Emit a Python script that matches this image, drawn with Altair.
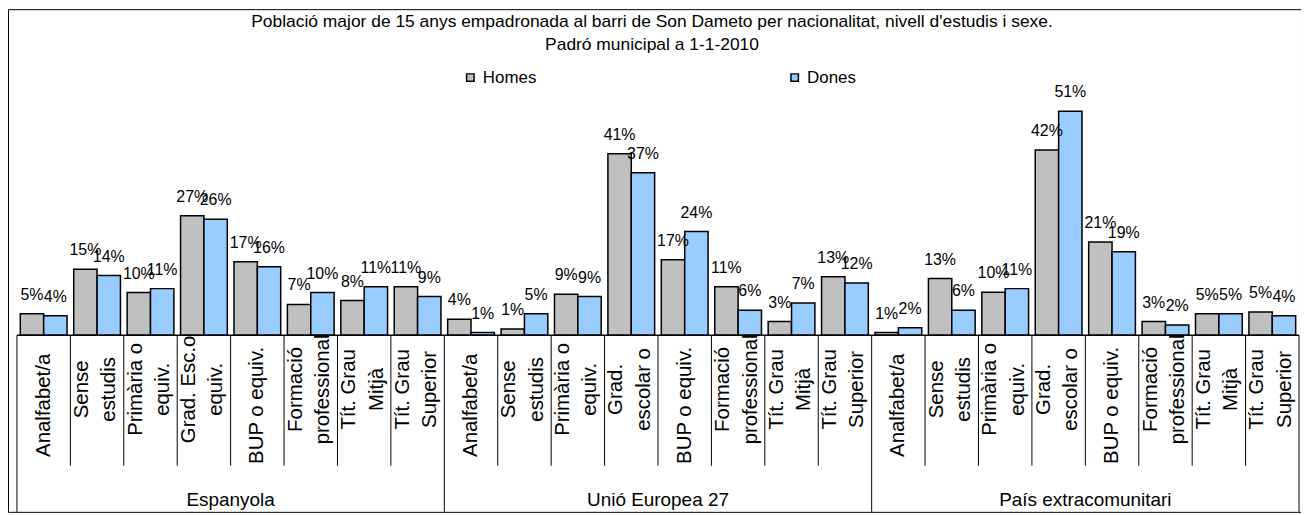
import altair as alt
import pandas as pd

# ---------------- data ----------------
groups = ["Espanyola", "Unió Europea 27", "País extracomunitari"]
levels_esp = ["Analfabet/a", "Sense\nestudis", "Primària o\nequiv.", "Grad. Esc.o\nequiv.",
              "BUP o equiv.", "Formació\nprofessional", "Tít. Grau\nMitjà", "Tít. Grau\nSuperior"]
levels_other = ["Analfabet/a", "Sense\nestudis", "Primària o\nequiv.", "Grad.\nescolar o",
                "BUP o equiv.", "Formació\nprofessional", "Tít. Grau\nMitjà", "Tít. Grau\nSuperior"]
sexes = ["Homes", "Dones"]

homes_esp = [4.9, 15.0, 9.7, 27.2, 16.7, 7.0, 7.9, 11.0]
dones_esp = [4.4, 13.6, 10.6, 26.4, 15.6, 9.7, 11.0, 8.8]
homes_ue = [3.6, 1.4, 9.3, 41.3, 17.2, 11.0, 3.1, 13.3]
dones_ue = [0.6, 4.9, 8.8, 37.0, 23.6, 5.7, 7.3, 11.9]
homes_ext = [0.6, 12.9, 9.8, 42.2, 21.2, 3.1, 4.9, 5.3]
dones_ext = [1.7, 5.7, 10.6, 51.0, 19.0, 2.3, 4.9, 4.4]

title_lines = ["Població major de 15 anys empadronada al barri de Son Dameto per nacionalitat, nivell d'estudis i sexe.",
               "Padró municipal a 1-1-2010"]

# ---------------- tables ----------------
level_sets = [levels_esp, levels_other, levels_other]
homes_sets = [homes_esp, homes_ue, homes_ext]
dones_sets = [dones_esp, dones_ue, dones_ext]

keys, cat_rows, bar_rows = [], [], []
for g, levels, hs, ds in zip(groups, level_sets, homes_sets, dones_sets):
    for i, lvl in enumerate(levels):
        k = f"{g}|{i}"
        keys.append(k)
        cat_rows.append({"key": k, "label": lvl, "group": g, "first": i == 0, "zero": 0,
                         "multi": "\n" in lvl})
        bar_rows.append({"key": k, "sex": "Homes", "value": hs[i]})
        bar_rows.append({"key": k, "sex": "Dones", "value": ds[i]})

bars_df = pd.DataFrame(bar_rows)
cats_df = pd.DataFrame(cat_rows)
inner_df = cats_df[~cats_df["first"]]
group_start_df = cats_df[cats_df["first"]]
single_df = cats_df[~cats_df["multi"]]
multi_df = cats_df[cats_df["multi"]]
end_df = pd.DataFrame({"key": [keys[-1]]})
group_mid_df = pd.DataFrame({"key": [f"{g}|4" for g in groups], "group": groups})
title_df = pd.DataFrame({"t": ["\n".join(title_lines)]})

FONT = "Liberation Sans"
W, H = 1299, 505
BASE = 327.5

xscale = alt.Scale(domain=keys, range=[9, 1297], paddingInner=0, paddingOuter=0)
yscale = alt.Scale(domain=[0, 60], range=[BASE, BASE - 60 * 4.41], nice=False, zero=True)
offscale = alt.Scale(domain=sexes, paddingInner=0, paddingOuter=0.143)
cscale = alt.Scale(domain=sexes, range=["#C0C0C0", "#99CCFF"])

bars = alt.Chart(bars_df).mark_bar(stroke="black", strokeWidth=1.5).encode(
    x=alt.X("key:N", scale=xscale, axis=None),
    xOffset=alt.XOffset("sex:N", scale=offscale),
    y=alt.Y("value:Q", scale=yscale, axis=None),
    color=alt.Color("sex:N", scale=cscale, legend=alt.Legend(
        title=None, orient="none", legendX=456, legendY=60, direction="horizontal",
        symbolType="square", symbolSize=56, symbolStrokeColor="black", symbolStrokeWidth=1.5,
        labelFontSize=17, labelFont=FONT, labelColor="black", labelOffset=4, columnPadding=250.8)),
)

labels = alt.Chart(bars_df).transform_calculate(frac="datum.value / 100").mark_text(
    font=FONT, fontSize=16, color="black", baseline="alphabetic", dy=-14
).encode(
    x=alt.X("key:N", scale=xscale, axis=None),
    xOffset=alt.XOffset("sex:N", scale=offscale),
    y=alt.Y("value:Q", scale=yscale, axis=None),
    text=alt.Text("frac:Q", format=".0%"),
)

baseline = alt.Chart(cats_df).mark_rect(fillOpacity=0, stroke="black", strokeWidth=1.5).encode(
    x=alt.X("key:N", scale=xscale, axis=None),
    y=alt.Y("zero:Q", scale=yscale, axis=None),
    y2="zero:Q",
)

inner_rules = alt.Chart(inner_df).mark_rule(color="black", strokeWidth=1).encode(
    x=alt.X("key:N", scale=xscale, axis=None, bandPosition=0),
    y=alt.value(BASE), y2=alt.value(458.7),
)
group_rules = alt.Chart(group_start_df).mark_rule(color="black", strokeWidth=1).encode(
    x=alt.X("key:N", scale=xscale, axis=None, bandPosition=0),
    y=alt.value(BASE), y2=alt.value(H),
)
end_rule = alt.Chart(end_df).mark_rule(color="black", strokeWidth=1).encode(
    x=alt.X("key:N", scale=xscale, axis=None, bandPosition=1),
    y=alt.value(BASE), y2=alt.value(H),
)

cat_single = alt.Chart(single_df).mark_text(
    font=FONT, fontSize=20.5, angle=270, align="center", baseline="middle", color="black"
).encode(
    x=alt.X("key:N", scale=xscale, axis=None),
    y=alt.value(398),
    text="label:N",
)
cat_multi = alt.Chart(multi_df).mark_text(
    font=FONT, fontSize=20.5, angle=270, lineBreak="\n", lineHeight=27.5,
    align="center", baseline="middle", color="black", dy=-15
).encode(
    x=alt.X("key:N", scale=xscale, axis=None),
    y=alt.value(382),
    text="label:N",
)

group_text = alt.Chart(group_mid_df).mark_text(
    font=FONT, fontSize=19, align="center", baseline="middle", color="black"
).encode(
    x=alt.X("key:N", scale=xscale, axis=None, bandPosition=0),
    y=alt.value(493),
    text="group:N",
)

title = alt.Chart(title_df).mark_text(
    font=FONT, fontSize=17.5, lineBreak="\n", lineHeight=23.5, align="center",
    baseline="alphabetic", color="black"
).encode(
    x=alt.value(647), y=alt.value(18), text="t:N",
)

chart = alt.layer(
    bars, labels, baseline, inner_rules, group_rules, end_rule, cat_single, cat_multi,
    group_text, title
).properties(
    width=W, height=H, padding=0, background="white"
).configure_view(stroke="black", strokeWidth=1)

chart.save("out.html", embed_options={"renderer": "svg", "actions": False})
